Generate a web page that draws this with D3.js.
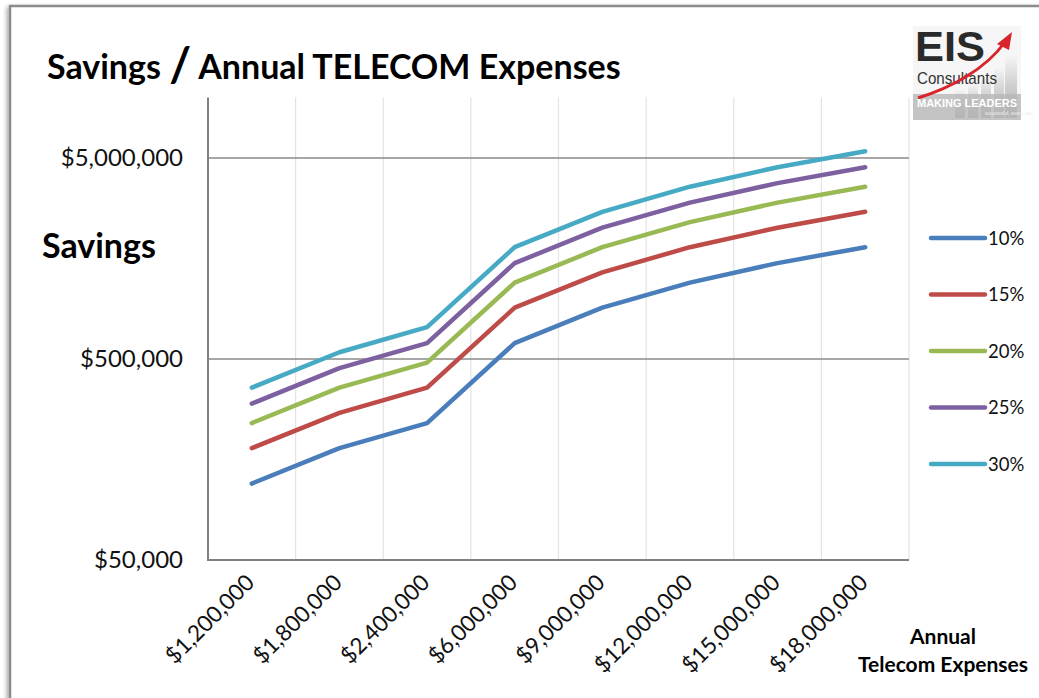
<!DOCTYPE html>
<html><head><meta charset="utf-8">
<script src="https://cdn.jsdelivr.net/npm/d3@7"></script>
<style>
body{margin:0;background:#fff;}
svg{display:block;font-family:Lato,"Open Sans",sans-serif;}
</style></head>
<body><svg id="c" width="1039" height="698"></svg>
<script>
const categories = ["$1,200,000","$1,800,000","$2,400,000","$6,000,000","$9,000,000","$12,000,000","$15,000,000","$18,000,000"];
const s10 = [120000,180000,240000,600000,900000,1200000,1500000,1800000];
const s15 = [180000,270000,360000,900000,1350000,1800000,2250000,2700000];
const s20 = [240000,360000,480000,1200000,1800000,2400000,3000000,3600000];
const s25 = [300000,450000,600000,1500000,2250000,3000000,3750000,4500000];
const s30 = [360000,540000,720000,1800000,2700000,3600000,4500000,5400000];
const seriesNames = ["10%","15%","20%","25%","30%"];
const yTicks = [50000,500000,5000000];
const yTickLabels = ["$50,000","$500,000","$5,000,000"];
const colors = ["#4A7EBB","#BE4B48","#98B954","#7D60A0","#46AAC5"];
const series = [s10,s15,s20,s25,s30];

const svg = d3.select("#c");
const defs = svg.append("defs");
const f = defs.append("filter").attr("id","sh").attr("x","-5%").attr("y","-5%").attr("width","110%").attr("height","110%");
f.append("feDropShadow").attr("dx",-2).attr("dy",2).attr("stdDeviation",2).attr("flood-color","#000").attr("flood-opacity",0.35);

// frame
svg.append("rect").attr("x",10).attr("y",6).attr("width",1060).attr("height",720)
  .attr("fill","#fff").attr("stroke","#8c8c8c").attr("stroke-width",2.5).attr("filter","url(#sh)");

const L=208, R=909, T=97.5, B=560;
const x = d3.scaleBand().domain(categories).range([L,R]).padding(0);
const y = d3.scaleLog().domain([50000,10000000]).range([B,T]);
const cx = c => x(c) + x.bandwidth()/2;

// vertical light gridlines
const vb = categories.slice(1).map(c=>x(c)).concat([R]);
svg.append("g").selectAll("line").data(vb).join("line")
  .attr("x1",d=>d).attr("x2",d=>d).attr("y1",T).attr("y2",B)
  .attr("stroke","#e3e3e3").attr("stroke-width",1.2);

// horizontal gridlines
svg.append("g").selectAll("line").data(yTicks.slice(1)).join("line")
  .attr("x1",L).attr("x2",R).attr("y1",d=>y(d)).attr("y2",d=>y(d))
  .attr("stroke","#8a8a8a").attr("stroke-width",1.6);

// axes lines
svg.append("line").attr("x1",L).attr("x2",L).attr("y1",T).attr("y2",B+1).attr("stroke","#808080").attr("stroke-width",2);
svg.append("line").attr("x1",L).attr("x2",R).attr("y1",B).attr("y2",B).attr("stroke","#808080").attr("stroke-width",2);

// y tick labels
svg.append("g").selectAll("text").data(yTicks).join("text")
  .attr("x",183).attr("y",d=>y(d)+8).attr("text-anchor","end")
  .attr("font-size",24).attr("fill","#111").text((d,i)=>yTickLabels[i]);

// x tick labels
svg.append("g").selectAll("text").data(categories).join("text")
  .attr("transform",c=>`translate(${cx(c)+4},${B+24}) rotate(-45)`)
  .attr("text-anchor","end").attr("font-size",22.5).attr("fill","#111").text(c=>c);

// lines
const line = d3.line().x((d,i)=>cx(categories[i])).y(d=>y(d));
svg.append("g").selectAll("path").data(series).join("path")
  .attr("d",line).attr("fill","none").attr("stroke",(d,i)=>colors[i])
  .attr("stroke-width",4.5).attr("stroke-linejoin","round").attr("stroke-linecap","round");

// legend
const lg = svg.append("g");
seriesNames.forEach((n,i)=>{
  const yy = 238 + i*56.5;
  lg.append("line").attr("x1",931).attr("x2",985).attr("y1",yy).attr("y2",yy)
    .attr("stroke",colors[i]).attr("stroke-width",4.5).attr("stroke-linecap","round");
  lg.append("text").attr("x",988).attr("y",yy+6.5).attr("font-size",18.5).attr("fill","#111").text(n);
});

// titles
const t = svg.append("text").attr("x",47).attr("y",79).attr("font-weight","bold").attr("font-size",34).attr("fill","#000");
t.append("tspan").text("Savings ");
t.append("tspan").attr("font-size",47).attr("dy",3).text("/");
t.append("tspan").attr("dy",-3).text(" Annual TELECOM Expenses");
svg.append("text").attr("x",42).attr("y",258).attr("font-weight","bold").attr("font-size",34).attr("fill","#000").text("Savings");
svg.append("text").attr("x",943).attr("y",644).attr("text-anchor","middle").attr("font-weight","bold").attr("font-size",21).attr("fill","#000").text("Annual");
svg.append("text").attr("x",943).attr("y",672).attr("text-anchor","middle").attr("font-weight","bold").attr("font-size",21).attr("fill","#000").text("Telecom Expenses");

// logo
const lo = svg.append("g");
const lgr = defs.append("linearGradient").attr("id","lgb").attr("x1",0).attr("x2",0).attr("y1",0).attr("y2",1);
lgr.append("stop").attr("offset","0").attr("stop-color","#f4f4f4");
lgr.append("stop").attr("offset","1").attr("stop-color","#9a9a9a");
lo.append("rect").attr("x",913).attr("y",26).attr("width",108).attr("height",94).attr("fill","#f6f6f6");
const bars=[[955,90,10],[968,84,10],[981,76,10],[994,68,10],[1005,56,12]];
bars.forEach(b=>lo.append("rect").attr("x",b[0]).attr("y",b[1]).attr("width",b[2]).attr("height",118-b[1]).attr("fill","url(#lgb)").attr("opacity",0.85));
lo.append("rect").attr("x",913).attr("y",94).attr("width",108).attr("height",26).attr("fill","#b8b8b8").attr("opacity",0.8);
lo.append("text").attr("x",915).attr("y",61).attr("font-family","Liberation Sans Narrow, Liberation Sans").attr("font-weight","bold").attr("font-size",42).attr("fill","#2a2a2a").attr("textLength",70).attr("lengthAdjust","spacingAndGlyphs").text("EIS");
lo.append("text").attr("x",917).attr("y",84).attr("font-family","Liberation Sans Narrow, Liberation Sans").attr("font-size",17).attr("fill","#333").attr("textLength",80).attr("lengthAdjust","spacingAndGlyphs").text("Consultants");
lo.append("path").attr("d","M918,98 C950,88 985,70 1005,42").attr("fill","none").attr("stroke","#d8242a").attr("stroke-width",3);
lo.append("path").attr("d","M997,44 L1012,32 L1009,50 Z").attr("fill","#d8242a");
lo.append("text").attr("x",917).attr("y",107).attr("font-family","Liberation Sans").attr("font-weight","bold").attr("font-size",11).attr("fill","#fff").attr("textLength",100).attr("lengthAdjust","spacingAndGlyphs").text("MAKING LEADERS");
lo.append("text").attr("x",985).attr("y",115).attr("font-family","Liberation Sans").attr("font-size",5).attr("fill","#eee").text("successful, every day");
</script></body></html>
